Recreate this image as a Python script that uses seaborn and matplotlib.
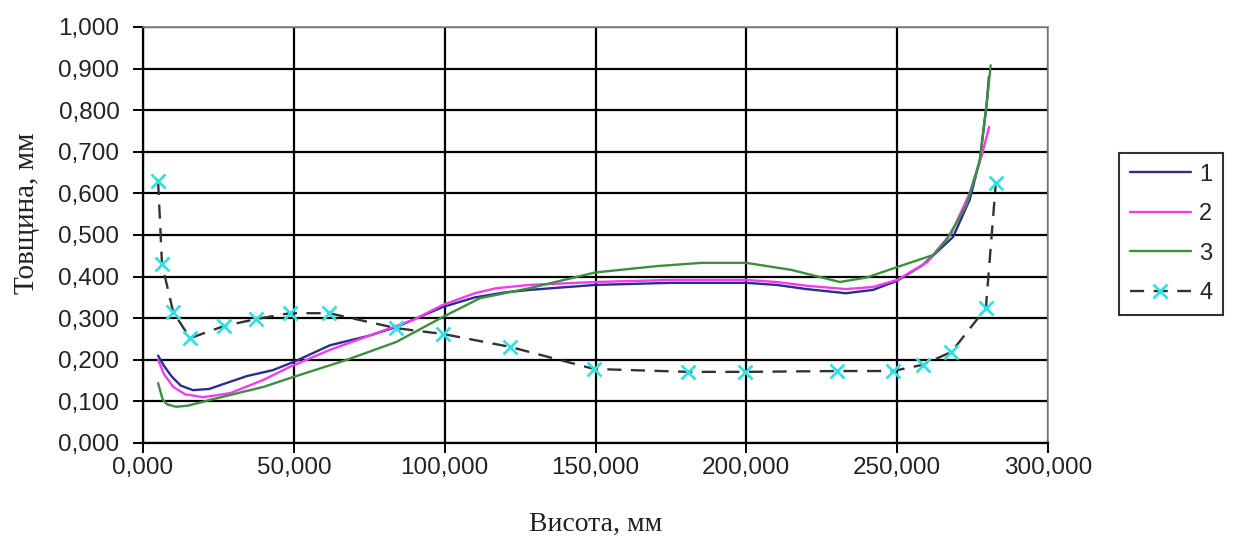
import matplotlib
matplotlib.use("Agg")
import matplotlib.pyplot as plt
import seaborn as sns
import pandas as pd
from matplotlib.ticker import FuncFormatter, MultipleLocator

# ---- data (height in mm, thickness in mm) ----
x1 = [5.0, 7.0, 9.5, 12.5, 16.6, 22.0, 28.0, 34.5, 43.0, 50.0, 62.0, 75.0, 84.0, 99.4, 110.0,
      120.0, 128.0, 150.0, 175.0, 200.0, 210.0, 220.0, 233.0, 242.0, 250.0, 258.5, 268.5,
      274.0, 277.4, 279.7, 280.4]
y1 = [0.210, 0.185, 0.160, 0.138, 0.127, 0.130, 0.145, 0.161, 0.175, 0.195, 0.235, 0.258,
      0.279, 0.327, 0.350, 0.362, 0.368, 0.380, 0.385, 0.385, 0.380, 0.370, 0.360, 0.368,
      0.390, 0.428, 0.495, 0.584, 0.680, 0.817, 0.880]

x2 = [5.0, 7.0, 10.0, 14.0, 20.0, 29.0, 40.0, 48.7, 62.0, 75.0, 89.6, 99.4, 110.0, 117.0,
      128.0, 150.0, 175.0, 200.0, 210.0, 220.0, 233.0, 242.0, 250.0, 260.0, 268.0, 274.0,
      278.0, 280.5]
y2 = [0.200, 0.165, 0.135, 0.117, 0.110, 0.120, 0.152, 0.183, 0.224, 0.258, 0.296, 0.332,
      0.360, 0.372, 0.380, 0.387, 0.392, 0.392, 0.387, 0.378, 0.370, 0.375, 0.392, 0.435,
      0.505, 0.600, 0.690, 0.760]

x3 = [5.0, 6.5, 8.0, 11.0, 15.0, 23.0, 40.0, 48.7, 67.6, 84.0, 99.4, 111.7, 128.0, 150.0,
      170.0, 185.0, 200.0, 215.0, 231.0, 240.0, 250.0, 262.0, 266.5, 273.0, 277.4, 279.7,
      281.0]
y3 = [0.144, 0.105, 0.093, 0.087, 0.090, 0.105, 0.135, 0.156, 0.200, 0.243, 0.303, 0.348,
      0.372, 0.410, 0.425, 0.433, 0.433, 0.416, 0.387, 0.398, 0.423, 0.452, 0.490, 0.572,
      0.680, 0.817, 0.908]

x4 = [5.0, 6.3, 10.0, 15.6, 26.8, 37.5, 48.7, 61.7, 84.0, 99.5, 121.7, 149.5, 180.6, 199.5,
      230.0, 248.6, 258.5, 268.0, 279.4, 282.7]
y4 = [0.630, 0.430, 0.315, 0.252, 0.281, 0.298, 0.312, 0.312, 0.276, 0.262, 0.231, 0.178,
      0.171, 0.171, 0.173, 0.173, 0.188, 0.219, 0.324, 0.625]

series_names = ["1", "2", "3", "4"]
colors = ["#2a2d8c", "#f23cf2", "#3d8f3d", "#333333"]
x_label = "Висота, мм"
y_label = "Товщина, мм"

sns.set_theme(style="white")
plt.rcParams["font.family"] = ["Liberation Sans", "DejaVu Sans"]

W, H = 1235, 538
fig = plt.figure(figsize=(W / 100, H / 100), dpi=100)
ax = fig.add_axes([143 / W, 1 - 443 / H, (1048 - 143) / W, (443 - 27) / H])

data = [(x1, y1), (x2, y2), (x3, y3)]
for (xs, ys), name, c in zip(data, series_names[:3], colors[:3]):
    df = pd.DataFrame({"x": xs, "y": ys})
    sns.lineplot(data=df, x="x", y="y", ax=ax, color=c, lw=1.7, sort=False,
                 label=name, zorder=3)

df4 = pd.DataFrame({"x": x4, "y": y4})
sns.lineplot(data=df4, x="x", y="y", ax=ax, color=colors[3], lw=1.7, sort=False,
             linestyle=(0, (6, 4)), marker="x", markersize=10, markeredgewidth=2,
             markeredgecolor="#33e0e0", markerfacecolor="#33e0e0", label=series_names[3],
             zorder=4)

ax.set_xlim(0, 300)
ax.set_ylim(0, 1.0)
ax.xaxis.set_major_locator(MultipleLocator(50))
ax.yaxis.set_major_locator(MultipleLocator(0.1))
fmt = FuncFormatter(lambda v, p: f"{v:.3f}".replace(".", ","))
ax.xaxis.set_major_formatter(fmt)
ax.yaxis.set_major_formatter(fmt)

ax.grid(True, color="black", lw=1.6, zorder=1)
ax.set_axisbelow(True)
for s in ["left", "bottom"]:
    ax.spines[s].set_color("black")
    ax.spines[s].set_linewidth(1.6)
for s in ["top", "right"]:
    ax.spines[s].set_color("#888888")
    ax.spines[s].set_linewidth(1.2)

ax.tick_params(axis="both", which="major", direction="out", length=7, width=1.4,
               color="black", labelsize=17.5, labelcolor="#222222",
               left=True, bottom=True)
ax.tick_params(axis="y", pad=10)
ax.tick_params(axis="x", pad=3)

ax.set_xlabel(x_label, family=["Liberation Serif", "DejaVu Serif"], fontsize=20,
              color="#222222")
ax.set_ylabel(y_label, family=["Liberation Serif", "DejaVu Serif"], fontsize=21,
              color="#222222")
ax.xaxis.set_label_coords(0.5, (443 - 512) / 416)
ax.yaxis.set_label_coords((40 - 143) / 905, (443 - 213) / 416)

leg = ax.legend(loc="upper left", bbox_to_anchor=(1119 / W, 1 - 153 / H),
                bbox_transform=fig.transFigure, borderaxespad=0, frameon=True,
                fancybox=False, edgecolor="black", fontsize=17, handlelength=2.6,
                labelspacing=0.74, borderpad=0.45, handletextpad=0.35)
leg.get_frame().set_linewidth(1.5)

fig.savefig("out.png", dpi=100, facecolor="white")
